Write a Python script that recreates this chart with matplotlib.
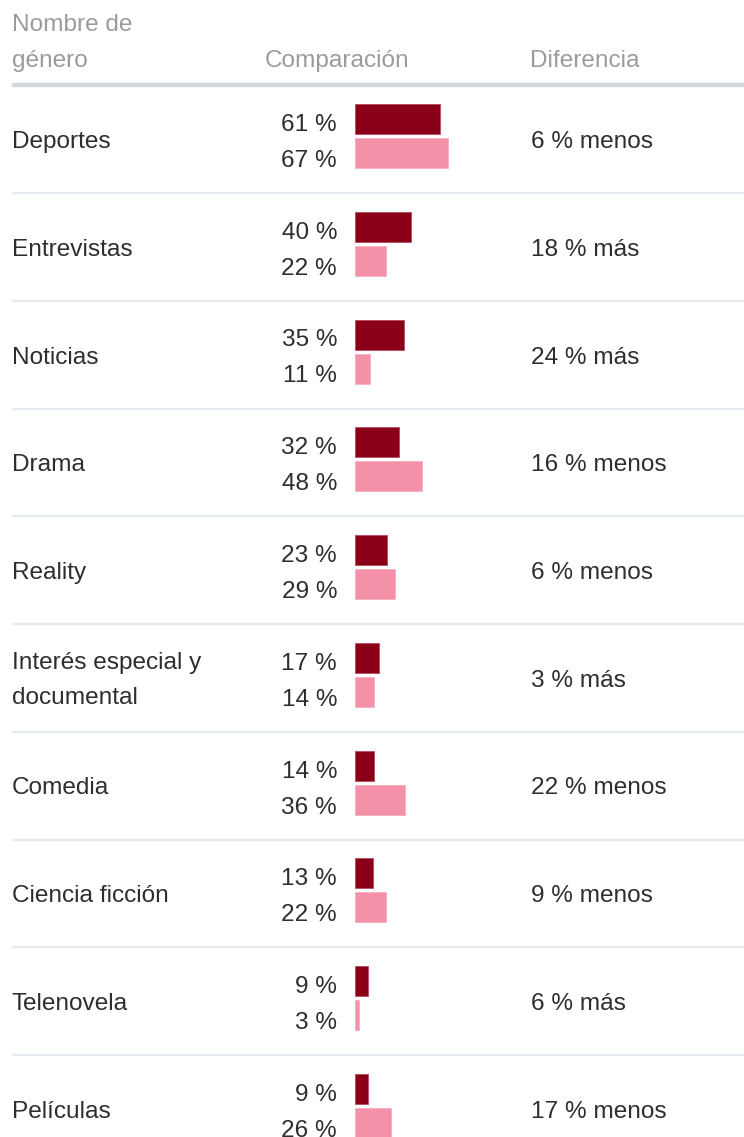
import matplotlib
matplotlib.use("Agg")
import matplotlib.pyplot as plt

plt.rcParams['font.family'] = ['Liberation Sans', 'DejaVu Sans']

genres = ["Deportes", "Entrevistas", "Noticias", "Drama", "Reality",
          "Interés especial y\ndocumental", "Comedia", "Ciencia ficción",
          "Telenovela", "Películas"]
series_a = [61, 40, 35, 32, 23, 17, 14, 13, 9, 9]
series_b = [67, 22, 11, 48, 29, 14, 36, 22, 3, 26]
diff_labels = ["6 % menos", "18 % más", "24 % más", "16 % menos", "6 % menos",
               "3 % más", "22 % menos", "9 % menos", "6 % más", "17 % menos"]
headers = ["Nombre de\ngénero", "Comparación", "Diferencia"]

W, H = 744, 1137
fig = plt.figure(figsize=(W / 100, H / 100), dpi=100)
fig.patch.set_facecolor("white")

bg = fig.add_axes([0, 0, 1, 1])
bg.set_xlim(0, W)
bg.set_ylim(H, 0)
bg.axis("off")

FS = 17.6
TXT = "#2e2e2e"
HDR = "#9b9b9b"
DARK = "#8a0018"
PINK = "#f490a8"

row0 = 139.0
step = 107.75
dy = 3  # vertical text offset correction

# headers
bg.text(12, 40 + dy, headers[0], fontsize=FS, color=HDR, ha="left", va="center", linespacing=1.78)
bg.text(265, 58 + dy, headers[1], fontsize=FS, color=HDR, ha="left", va="center")
bg.text(530, 58 + dy, headers[2], fontsize=FS, color=HDR, ha="left", va="center")
bg.plot([12, W], [84.5, 84.5], color="#cfd8de", lw=3.2, solid_capstyle="butt")

for i, g in enumerate(genres):
    yc = row0 + step * i
    bg.text(12, yc + dy, g, fontsize=FS, color=TXT, ha="left", va="center", linespacing=1.74)
    bg.text(337, yc - 17 + dy, f"{series_a[i]} %", fontsize=FS, color=TXT, ha="right", va="center")
    bg.text(337, yc + 19 + dy, f"{series_b[i]} %", fontsize=FS, color=TXT, ha="right", va="center")
    bg.text(531, yc + dy, diff_labels[i], fontsize=FS, color=TXT, ha="left", va="center")
    if i < len(genres) - 1:
        ys = yc + 54
        bg.plot([12, W], [ys, ys], color="#e4e9ed", lw=1.6, solid_capstyle="butt")

# bars axis: 1.39 px per percent
px_per = 1.39
bx = fig.add_axes([355 / W, 0, px_per * 100 / W, 1])
bx.set_xlim(0, 100)
bx.set_ylim((H - row0) / step, -row0 / step)
bx.axis("off")
bx.patch.set_alpha(0)
ypos = list(range(len(genres)))
bx.barh([y - 20 / step for y in ypos], series_a, height=30 / step, color=DARK,
        edgecolor="#b04058", linewidth=0.5, align="center")
bx.barh([y + 14 / step for y in ypos], series_b, height=30 / step, color=PINK,
        edgecolor="#f6a8bb", linewidth=0.5, align="center")

fig.savefig("out.png", dpi=100, facecolor="white")
